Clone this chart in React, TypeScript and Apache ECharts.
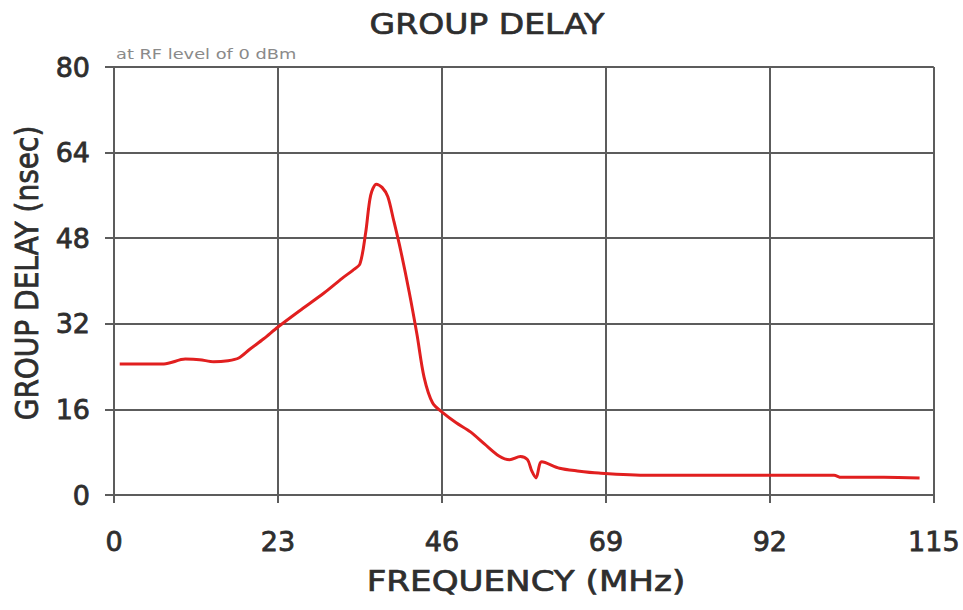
import React, { useEffect, useRef } from "react";
import * as echarts from "echarts";

const freqMHz = [0.8, 4, 7, 10, 12, 14, 16, 17.5, 19, 21, 23, 26, 29.5, 32, 33.5, 34.5, 35.3, 36, 36.8, 37.6, 38.4, 39.2, 40.2, 41.4, 42.5, 43.5, 44.7, 46.2, 48, 50, 52, 54, 55.5, 57, 58, 58.6, 59.2, 60, 62.5, 65, 68, 75, 85, 95, 101, 102, 108, 113];
const groupDelayNs = [24.5, 24.5, 24.5, 25.4, 25.3, 24.9, 25.1, 25.6, 27.2, 29.2, 31.4, 34.4, 37.8, 40.5, 42, 43.2, 49, 56, 58.1, 57.5, 55.8, 51.5, 45.8, 38, 30, 22, 17.2, 15.3, 13.5, 11.8, 9.5, 7.3, 6.6, 7.2, 6.6, 4.5, 3.2, 6.2, 5.0, 4.5, 4.1, 3.7, 3.7, 3.7, 3.7, 3.3, 3.3, 3.2];
const xTicks = [0, 23, 46, 69, 92, 115];
const yTicks = [0, 16, 32, 48, 64, 80];

export default function App() {
  const ref = useRef<HTMLDivElement>(null);
  useEffect(() => {
    if (!ref.current) return;
    const chart = echarts.init(ref.current, null, { renderer: "svg" });
    const font = "'DejaVu Sans', 'Liberation Sans', sans-serif";
    const gridColor = "#5c5c5c";
    const textColor = "#2e2e2e";
    const bigText = (text: string, x: number, y: number, extra: any) => ({
      type: "text",
      x,
      y,
      ...extra,
      style: {
        text,
        font: "28px 'DejaVu Sans', sans-serif",
        fill: textColor,
        stroke: textColor,
        lineWidth: 0.7,
        textAlign: "center",
        textVerticalAlign: "middle",
      },
    });
    chart.setOption({
      animation: false,
      backgroundColor: "#ffffff",
      graphic: [
        bigText("GROUP DELAY", 487, 24, { scaleX: 1.18 }),
        bigText("FREQUENCY (MHz)", 526, 581, { scaleX: 1.22 }),
        bigText("GROUP DELAY (nsec)", 27, 273, { rotation: Math.PI / 2, scaleY: 1.15 }),
        {
          type: "text",
          x: 116,
          y: 54,
          scaleX: 1.27,
          style: {
            text: "at RF level of 0 dBm",
            font: "14px 'DejaVu Sans', sans-serif",
            fill: "#8a8a8a",
            textVerticalAlign: "middle",
          },
        },
      ],
      grid: { left: 114, right: 28, top: 67, bottom: 115, containLabel: false },
      xAxis: {
        type: "value",
        min: xTicks[0],
        max: xTicks[xTicks.length - 1],
        interval: 23,
        axisLine: { show: true, lineStyle: { color: gridColor, width: 2 } },
        axisTick: { show: true, length: 8, lineStyle: { color: gridColor, width: 2 } },
        axisLabel: {
          fontFamily: font,
          fontSize: 27,
          color: textColor,
          textBorderColor: textColor,
          textBorderWidth: 0.8,
          margin: 33,
        },
        splitLine: { show: true, lineStyle: { color: gridColor, width: 2 } },
      },
      yAxis: {
        type: "value",
        min: yTicks[0],
        max: yTicks[yTicks.length - 1],
        interval: 16,
        axisLine: { show: true, lineStyle: { color: gridColor, width: 2 } },
        axisTick: { show: true, length: 9, lineStyle: { color: gridColor, width: 2 } },
        axisLabel: {
          fontFamily: font,
          fontSize: 27,
          color: textColor,
          textBorderColor: textColor,
          textBorderWidth: 0.8,
          margin: 24,
        },
        splitLine: { show: true, lineStyle: { color: gridColor, width: 2 } },
      },
      series: [
        {
          type: "line",
          data: freqMHz.map((f, i) => [f, groupDelayNs[i]]),
          smooth: 0.3,
          symbol: "none",
          lineStyle: { color: "#e11f1f", width: 3 },
        },
      ],
    });
    return () => chart.dispose();
  }, []);
  return (
    <div
      ref={ref}
      style={{ position: "fixed", left: 0, top: 0, width: 963, height: 610 }}
    />
  );
}
